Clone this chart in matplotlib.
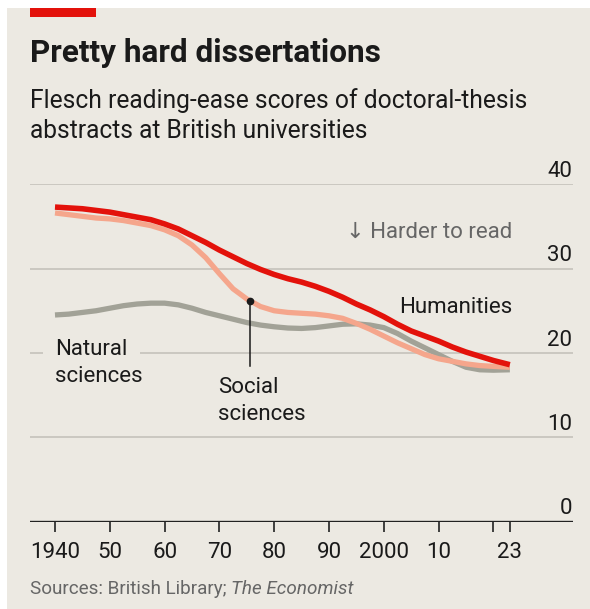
import matplotlib
matplotlib.use("Agg")
import matplotlib.pyplot as plt
from matplotlib import font_manager as fm
from matplotlib.patches import Rectangle
import matplotlib.transforms as mtransforms

# ---------------- data ----------------
years = [1940, 1942.5, 1945, 1947.5, 1950, 1952.5, 1955, 1957.5, 1960, 1962.5,
         1965, 1967.5, 1970, 1972.5, 1975, 1977.5, 1980, 1982.5, 1985, 1987.5,
         1990, 1992.5, 1995, 1997.5, 2000, 2002.5, 2005, 2007.5, 2010, 2012.5,
         2015, 2017.5, 2020, 2023]
humanities = [37.3, 37.2, 37.1, 36.9, 36.7, 36.4, 36.1, 35.8, 35.3, 34.7,
              33.9, 33.1, 32.2, 31.4, 30.6, 29.9, 29.3, 28.8, 28.4, 27.9,
              27.3, 26.6, 25.8, 25.1, 24.3, 23.4, 22.6, 22.0, 21.4, 20.7,
              20.1, 19.6, 19.1, 18.6]
social = [36.6, 36.4, 36.2, 36.0, 35.9, 35.7, 35.4, 35.1, 34.6, 33.9,
          32.8, 31.3, 29.4, 27.6, 26.4, 25.5, 25.0, 24.8, 24.7, 24.6,
          24.4, 24.1, 23.5, 22.8, 22.0, 21.2, 20.5, 19.8, 19.3, 19.0,
          18.7, 18.5, 18.4, 18.3]
natural = [24.5, 24.6, 24.8, 25.0, 25.3, 25.6, 25.8, 25.9, 25.9, 25.7,
           25.3, 24.8, 24.4, 24.0, 23.6, 23.3, 23.1, 22.95, 22.9, 23.0,
           23.2, 23.4, 23.45, 23.3, 23.0, 22.3, 21.4, 20.6, 19.8, 19.0,
           18.3, 18.0, 17.95, 18.0]
xticks = [1940, 1950, 1960, 1970, 1980, 1990, 2000, 2010, 2020, 2023]
xticklabels = ["1940", "50", "60", "70", "80", "90", "2000", "10", "", "23"]
yticks = [0, 10, 20, 30, 40]
social_point = (1975.6, 26.2)

# ---------------- style ----------------
BG = "#ECE9E2"
RED = "#E3120B"
SALMON = "#F5A68C"
GREY = "#A2A297"
TEXT = "#1A1A1A"
SUB = "#666666"
GRID = "#CBC8C1"

names = {f.name for f in fm.fontManager.ttflist}
BASE = "Roboto" if "Roboto" in names else "DejaVu Sans"
COND = "Liberation Sans Narrow" if "Liberation Sans Narrow" in names else BASE
plt.rcParams["font.family"] = [BASE, "DejaVu Sans"]

W, H = 590, 609
fig = plt.figure(figsize=(W / 100, H / 100), dpi=100)
fig.patch.set_facecolor(BG)

# white margins at top and left
fig.patches.append(Rectangle((0, 1 - 8 / H), 1, 8 / H, transform=fig.transFigure,
                             facecolor="white", edgecolor="none", zorder=0))
fig.patches.append(Rectangle((0, 0), 7 / W, 1, transform=fig.transFigure,
                             facecolor="white", edgecolor="none", zorder=0))
# red tag
fig.patches.append(Rectangle((30 / W, 1 - 16.7 / H), 66 / W, 8.7 / H,
                             transform=fig.transFigure, facecolor=RED,
                             edgecolor="none", zorder=1))

def px(x, y):
    return x / W, 1 - y / H

renderer = fig.canvas.get_renderer()

def fit_width(t, target):
    w = t.get_window_extent(renderer).width
    t.set_fontsize(t.get_fontsize() * target / w)

# title
t = fig.text(*px(30, 62.3), "Pretty hard dissertations", fontsize=20,
             fontweight="bold", family=[COND, "DejaVu Sans"], color=TEXT,
             va="baseline", ha="left")
fit_width(t, 350)
s1 = fig.text(*px(30, 108.3), "Flesch reading-ease scores of doctoral-thesis",
              fontsize=16, family=[COND, "DejaVu Sans"], color=TEXT,
              va="baseline", ha="left")
fit_width(s1, 497)
s2 = fig.text(*px(30, 138.3), "abstracts at British universities",
              fontsize=s1.get_fontsize(), family=[COND, "DejaVu Sans"], color=TEXT,
              va="baseline", ha="left")

# source
src1 = fig.text(*px(30, 594), "Sources: British Library; ", fontsize=12,
                family=[COND, "DejaVu Sans"], color=SUB, va="baseline", ha="left")
src2 = fig.text(*px(30, 594), "The Economist", fontsize=12, style="italic",
                family=[COND, "DejaVu Sans"], color=SUB, va="baseline", ha="left")
w1 = src1.get_window_extent(renderer).width
w2 = src2.get_window_extent(renderer).width
scale = 323 / (w1 + w2)
src1.set_fontsize(12 * scale)
src2.set_fontsize(12 * scale)
w1 = src1.get_window_extent(renderer).width
src2.set_position(px(30 + w1, 594))

# ---------------- axes ----------------
left, right = 30, 573.3
y0, y40 = 521.5, 184.3
ax = fig.add_axes([left / W, (H - y0) / H, (right - left) / W, (y0 - y40) / H])
ax.set_facecolor("none")
ax.set_xlim(1935.44, 2034.58)
ax.set_ylim(0, 40)
for sp in ax.spines.values():
    sp.set_visible(False)

for v in yticks[1:]:
    ax.axhline(v, color=GRID, lw=1.4, zorder=1)
ax.axhline(0, color="#222222", lw=1.7, zorder=4)

ax.set_yticks([])
ax.set_xticks(xticks)
ax.set_xticklabels(xticklabels, fontsize=16, color=TEXT)
ax.tick_params(axis="x", length=7.5, width=1.2, color="#222222", pad=7,
               direction="out")

ytrans = mtransforms.blended_transform_factory(ax.transAxes, ax.transData)
for v in yticks:
    ax.text(0.998, v + 0.85, str(v), transform=ytrans, ha="right", va="baseline",
            fontsize=16, color=TEXT, clip_on=False)

# lines
ax.plot(years, natural, color=GREY, lw=3.8, solid_capstyle="butt", zorder=3)
ax.plot(years, social, color=SALMON, lw=3.8, solid_capstyle="butt", zorder=3.1)
ax.plot(years, humanities, color=RED, lw=4.0, solid_capstyle="butt", zorder=3.2)

# labels
ax.text(1940.0, 19.76, "Natural", fontsize=16, color=TEXT, ha="left",
        va="baseline", zorder=2,
        bbox=dict(boxstyle="square,pad=0.55", facecolor=BG, edgecolor="none"))
ax.text(1940.0, 16.6, "sciences", fontsize=16, color=TEXT, ha="left",
        va="baseline", zorder=2)
ax.text(1969.8, 15.2, "Social", fontsize=16, color=TEXT, ha="left",
        va="baseline", zorder=5)
ax.text(1969.8, 12.05, "sciences", fontsize=16, color=TEXT, ha="left",
        va="baseline", zorder=5)
ax.plot([social_point[0], social_point[0]], [social_point[1], 18.5],
        color="#1A1A1A", lw=1.1, zorder=5)
ax.plot([social_point[0]], [social_point[1]], marker="o", ms=4.5,
        color="#1A1A1A", zorder=5)
ax.text(2023.5, 24.7, "Humanities", fontsize=16, color=TEXT, ha="right",
        va="baseline", zorder=5)
ax.text(2023.4, 33.65, "\u2193 Harder to read", fontsize=16, color=SUB,
        ha="right", va="baseline", zorder=5, family=[BASE, "DejaVu Sans"])

fig.savefig("out.png", dpi=100, facecolor=BG)
